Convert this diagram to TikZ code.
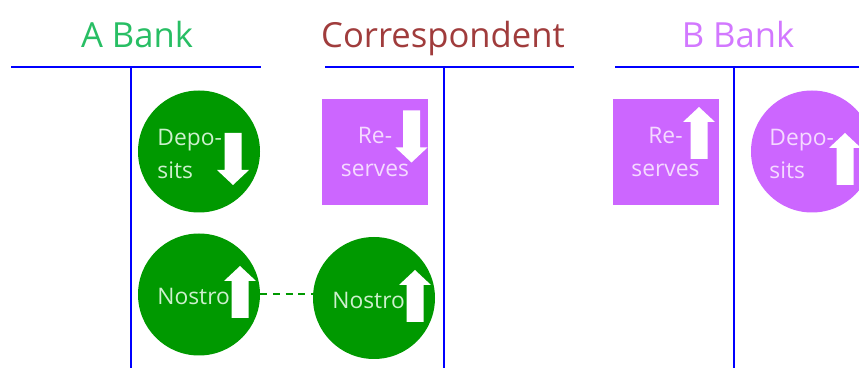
\documentclass[tikz,border=0pt]{standalone}
\usepackage{fontspec}
\setmainfont{Open Sans}
\definecolor{bankgreen}{RGB}{0,153,0}
\definecolor{bankviolet}{RGB}{204,102,255}
\definecolor{titlegreen}{RGB}{40,190,100}
\definecolor{titlebrown}{RGB}{160,60,60}
\definecolor{titleviolet}{RGB}{210,120,255}
\definecolor{palegreen}{RGB}{205,240,205}
\definecolor{paleviolet}{RGB}{245,218,255}
\newcommand{\ty}{67}
\newcommand{\by}{368}

\begin{document}
\begin{tikzpicture}[x=0.5pt, y=-0.5pt,
    title/.style={font=\fontsize{17.3}{22}\selectfont, anchor=base},
    tline/.style={blue, line width=0.75pt},
    greenacct/.style={circle, fill=bankgreen, minimum size=61pt, inner sep=0pt},
    violetacct/.style={circle, fill=bankviolet, minimum size=61pt, inner sep=0pt},
    violetbox/.style={rectangle, fill=bankviolet, minimum size=53pt, inner sep=0pt,
        text=paleviolet, align=center, font=\fontsize{11.4}{16.5}\selectfont},
    lbl/.style={font=\fontsize{11.4}{16.5}\selectfont, inner sep=0pt, anchor=west, align=left},
    uparr/.pic={\fill[white] (-8.5,26) -- (-8.5,-11) -- (-16,-11) -- (0,-26) -- (16,-11) -- (8.5,-11) -- (8.5,26) -- cycle;}
]
    \useasboundingbox (0,0) rectangle (859,368);
    \clip (0,0) rectangle (859,368);

    % T-accounts
    \node[title, text=titlegreen] (tA) at (137,48) {A Bank};
    \node[title, text=titlebrown] (tC) at (443,48) {Correspondent};
    \node[title, text=titleviolet] (tB) at (738,48) {B Bank};

    \draw[tline] (11,\ty) -- (261,\ty);
    \draw[tline] (131,\ty) -- (131,\by);
    \draw[tline] (325,\ty) -- (574,\ty);
    \draw[tline] (444,\ty) -- (444,\by);
    \draw[tline] (615,\ty) -- (859,\ty);
    \draw[tline] (734,\ty) -- (734,\by);

    % A Bank
    \node[greenacct] (depA) at (199,151.5) {};
    \node[lbl, text=palegreen] (depA-t) at (157,154) {Depo-\\sits};
    \pic[rotate=180] at (233,159) {uparr};

    \node[greenacct] (nosA) at (199,294.5) {};
    \node[lbl, text=palegreen] (nosA-t) at (157,296.5) {Nostro};
    \pic at (240,292) {uparr};

    % Correspondent
    \node[violetbox] (resC) at (375,152) {Re-\\serves};
    \pic[rotate=180] at (411.5,136.5) {uparr};

    \node[greenacct] (nosC) at (374,298) {};
    \node[lbl, text=palegreen] (nosC-t) at (332,300.5) {Nostro};
    \pic at (415,296) {uparr};

    % B Bank
    \node[violetbox] (resB) at (665.5,152) {Re-\\serves};
    \pic at (699,133) {uparr};

    \node[violetacct] (depB) at (812,151.5) {};
    \node[lbl, text=paleviolet] (depB-t) at (769,154) {Depo-\\sits};
    \pic at (845,159) {uparr};

    \draw[bankgreen, line width=1pt, dash pattern=on 3.5pt off 2.8pt]
        (nosA.east) -- (nosA.east -| nosC.west);
\end{tikzpicture}
\end{document}
